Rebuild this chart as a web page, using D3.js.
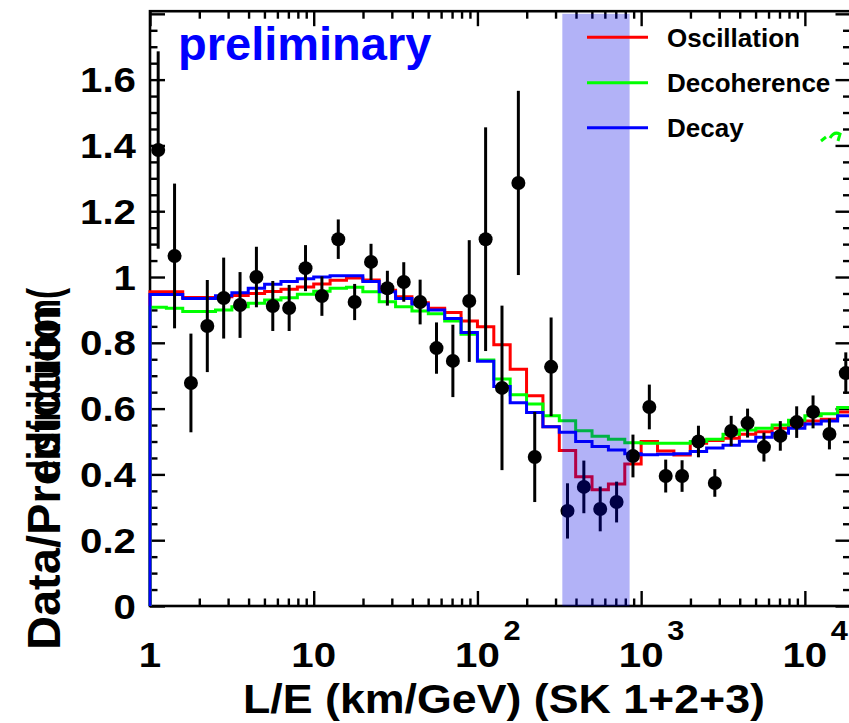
<!DOCTYPE html>
<html>
<head>
<meta charset="utf-8">
<script src="https://cdn.jsdelivr.net/npm/d3@7"></script>
<style>
  body { margin: 0; background: #fff; }
  svg { display: block; }
  text { font-family: "Liberation Sans", Arial, Helvetica, sans-serif; font-weight: bold; }
</style>
</head>
<body>
<svg id="chart" width="849" height="723"></svg>
<script>
// L/E binning: each bin covers one tenth of a decade, starting at 1 km/GeV
const binLog = 0.1;

// Measured data / prediction ratio per bin, with its statistical error
const dataRatio = [1.386, 1.064, 0.678, 0.851, 0.936, 0.915, 1.000, 0.912, 0.906, 1.027,
                   0.942, 1.115, 0.924, 1.046, 0.966, 0.985, 0.924, 0.784, 0.745, 0.927,
                   1.115, 0.663, 1.286, 0.453, 0.727, 0.289, 0.362, 0.295, 0.316, 0.456,
                   0.605, 0.395, 0.395, 0.500, 0.374, 0.532, 0.556, 0.483, 0.517, 0.559,
                   0.590, 0.523, 0.708];
const dataErr   = [0.300, 0.220, 0.150, 0.140, 0.123, 0.100, 0.092, 0.076, 0.070, 0.070,
                   0.060, 0.060, 0.055, 0.055, 0.053, 0.060, 0.068, 0.078, 0.110, 0.185,
                   0.340, 0.250, 0.280, 0.137, 0.150, 0.084, 0.080, 0.068, 0.062, 0.065,
                   0.068, 0.050, 0.048, 0.048, 0.042, 0.046, 0.044, 0.044, 0.045, 0.048,
                   0.050, 0.047, 0.063];

// Best-fit model predictions, same binning
const oscillation = [0.955, 0.955, 0.938, 0.938, 0.940, 0.944, 0.950, 0.956, 0.963, 0.970,
                     0.979, 0.990, 0.997, 0.991, 0.960, 0.940, 0.922, 0.905, 0.892, 0.866,
                     0.849, 0.794, 0.720, 0.639, 0.545, 0.473, 0.393, 0.353, 0.371, 0.432,
                     0.500, 0.471, 0.459, 0.495, 0.503, 0.510, 0.522, 0.530, 0.540, 0.550,
                     0.562, 0.568, 0.590];
const decoherence = [0.908, 0.905, 0.895, 0.895, 0.900, 0.910, 0.920, 0.930, 0.937, 0.948,
                     0.957, 0.966, 0.969, 0.955, 0.925, 0.910, 0.897, 0.888, 0.866, 0.826,
                     0.748, 0.690, 0.642, 0.614, 0.578, 0.563, 0.533, 0.516, 0.507, 0.496,
                     0.495, 0.495, 0.495, 0.500, 0.507, 0.522, 0.535, 0.540, 0.550, 0.565,
                     0.578, 0.584, 0.603];
const decay = [0.947, 0.947, 0.935, 0.935, 0.943, 0.952, 0.966, 0.978, 0.986, 0.995,
               1.000, 1.004, 1.004, 0.986, 0.955, 0.935, 0.918, 0.900, 0.874, 0.831,
               0.744, 0.667, 0.618, 0.588, 0.545, 0.528, 0.500, 0.485, 0.474, 0.463,
               0.460, 0.461, 0.463, 0.470, 0.480, 0.489, 0.501, 0.513, 0.525, 0.540,
               0.553, 0.562, 0.578];

// Axis ticks and labels
const yLabelTicks = [0, 0.2, 0.4, 0.6, 0.8, 1.0, 1.2, 1.4, 1.6];
const yLabelText  = ["0", "0.2", "0.4", "0.6", "0.8", "1", "1.2", "1.4", "1.6"];
const xDecades    = [1, 10, 100, 1000, 10000];
const xBase       = ["1", "10", "10", "10", "10"];
const xExponent   = ["", "", "2", "3", "4"];

// Highlighted L/E region (km/GeV)
const dipRegion = [330, 850];

const seriesNames  = ["Oscillation", "Decoherence", "Decay"];
const seriesColors = ["#ff0000", "#00ff00", "#0000ff"];

// ---------------------------------------------------------------
const svg = d3.select("#chart");
const plotL = 150, plotR = 850.5, plotB = 606, plotT = 11.2;

const x = d3.scaleLog().domain([1, 19000]).range([plotL, plotR]);
const y = d3.scaleLinear().domain([0, 1.808]).range([plotB, plotT]);

const nBins = dataRatio.length;
const binLo = d3.range(nBins).map(i => Math.pow(10, i * binLog));
const binHi = d3.range(nBins).map(i => Math.pow(10, (i + 1) * binLog));
const binMid = d3.range(nBins).map(i => Math.pow(10, (i + 0.5) * binLog));

// ---- frame ticks -------------------------------------------------
const majorLen = 15, minorLen = 7.5;
const yMinor = d3.range(0, 1.8001, 0.05).filter(v => Math.abs(v / 0.2 - Math.round(v / 0.2)) > 1e-6);
const yMajor = d3.range(0, 1.8001, 0.2);
const xMinor = [];
[1, 10, 100, 1000, 10000].forEach(d => { for (let k = 2; k <= 9; k++) if (d * k <= 19000) xMinor.push(d * k); });

const axes = svg.append("g").attr("class", "axes");
function tickAxis(axisGen, values, size, tx) {
  const g = axes.append("g").attr("transform", tx)
    .call(axisGen.tickValues(values).tickSize(size).tickSizeOuter(0).tickFormat(""));
  g.select(".domain").remove();
  g.selectAll(".tick line").attr("stroke", "#000").attr("stroke-width", 2.4);
  return g;
}
// ticks point into the plot on all four sides
tickAxis(d3.axisLeft(y),   yMajor, -majorLen, `translate(${plotL},0)`);
tickAxis(d3.axisLeft(y),   yMinor, -minorLen, `translate(${plotL},0)`);
tickAxis(d3.axisRight(y),  yMajor, -majorLen, `translate(${plotR},0)`);
tickAxis(d3.axisRight(y),  yMinor, -minorLen, `translate(${plotR},0)`);
tickAxis(d3.axisBottom(x), xDecades, -majorLen, `translate(0,${plotB})`);
tickAxis(d3.axisBottom(x), xMinor, -minorLen, `translate(0,${plotB})`);
tickAxis(d3.axisTop(x),    xDecades, -majorLen, `translate(0,${plotT})`);
tickAxis(d3.axisTop(x),    xMinor, -minorLen, `translate(0,${plotT})`);

axes.append("rect")
  .attr("x", plotL).attr("y", plotT)
  .attr("width", plotR - plotL).attr("height", plotB - plotT)
  .attr("fill", "none").attr("stroke", "#000").attr("stroke-width", 2.6);

// ---- model histograms (outline starts from zero at the left edge) --
const stepLine = d3.line().x(d => x(d[0])).y(d => y(d[1]));
function histPoints(vals) {
  const pts = [[1, 0]];
  vals.forEach((v, i) => { pts.push([binLo[i], v]); pts.push([binHi[i], v]); });
  return pts;
}
svg.append("clipPath").attr("id", "plotArea")
  .append("rect").attr("x", plotL - 3).attr("y", 0).attr("width", plotR - plotL + 3).attr("height", plotB + 2);

const hist = svg.append("g").attr("clip-path", "url(#plotArea)");
[oscillation, decoherence, decay].forEach((vals, k) => {
  hist.append("path")
    .attr("d", stepLine(histPoints(vals)))
    .attr("fill", "none")
    .attr("stroke", seriesColors[k])
    .attr("stroke-width", 3)
    .attr("stroke-linejoin", "miter");
});

// ---- data points with error bars ----------------------------------
const pts = svg.append("g");
pts.selectAll("line.err").data(dataRatio).join("line")
  .attr("class", "err")
  .attr("x1", (d, i) => x(binMid[i])).attr("x2", (d, i) => x(binMid[i]))
  .attr("y1", (d, i) => y(d - dataErr[i])).attr("y2", (d, i) => y(d + dataErr[i]))
  .attr("stroke", "#000").attr("stroke-width", 3);
pts.selectAll("circle").data(dataRatio).join("circle")
  .attr("cx", (d, i) => x(binMid[i])).attr("cy", d => y(d))
  .attr("r", 7).attr("fill", "#000");

// ---- highlighted L/E band -----------------------------------------
svg.append("rect")
  .attr("x", x(dipRegion[0])).attr("width", x(dipRegion[1]) - x(dipRegion[0]))
  .attr("y", y(1.8)).attr("height", y(0) - y(1.8))
  .attr("fill", "rgb(0,0,230)").attr("fill-opacity", 0.3);

// ---- axis labels --------------------------------------------------
const labels = svg.append("g");
yLabelTicks.forEach((v, i) => {
  labels.append("text")
    .attr("transform", `translate(136,${y(v) + 12.5}) scale(1.15,1)`)
    .attr("text-anchor", "end").attr("font-size", 35).attr("fill", "#000")
    .text(yLabelText[i]);
});
xDecades.forEach((v, i) => {
  labels.append("text")
    .attr("transform", `translate(${x(v)},667) scale(1.15,1)`)
    .attr("text-anchor", "middle").attr("font-size", 35).attr("fill", "#000")
    .text(xBase[i]);
  if (xExponent[i]) {
    labels.append("text")
      .attr("transform", `translate(${x(v) + 26},640) scale(1.1,1)`)
      .attr("text-anchor", "start").attr("font-size", 28).attr("fill", "#000")
      .text(xExponent[i]);
  }
});

labels.append("text")
  .attr("x", 243).attr("y", 713)
  .attr("font-size", 41).attr("fill", "#000")
  .attr("textLength", 522).attr("lengthAdjust", "spacingAndGlyphs")
  .text("L/E (km/GeV) (SK 1+2+3)");

const yTitle = labels.append("g").attr("transform", "translate(60,650) rotate(-90)");
yTitle.append("text").attr("x", 0).attr("y", 0)
  .attr("font-size", 47).attr("fill", "#000")
  .attr("textLength", 345).attr("lengthAdjust", "spacingAndGlyphs")
  .text("Data/Prediction");
yTitle.append("text").attr("x", 170).attr("y", 0)
  .attr("font-size", 47).attr("fill", "#000")
  .attr("textLength", 192).attr("lengthAdjust", "spacingAndGlyphs")
  .text("distribution(");

// ---- "preliminary" tag --------------------------------------------
svg.append("text")
  .attr("x", 178).attr("y", 60)
  .attr("font-size", 47).attr("fill", "#0000ff")
  .text("preliminary");

// ---- legend -------------------------------------------------------
const legendY = [37.3, 82.7, 127.7];
const legend = svg.append("g");
seriesNames.forEach((name, k) => {
  legend.append("line")
    .attr("x1", 587).attr("x2", 648)
    .attr("y1", legendY[k]).attr("y2", legendY[k])
    .attr("stroke", seriesColors[k]).attr("stroke-width", 3);
  legend.append("text")
    .attr("x", 667).attr("y", legendY[k] + 9.5)
    .attr("font-size", 26).attr("fill", "#000")
    .text(name);
});

// small green fragment of a marker peeking in at the right edge
svg.append("path")
  .attr("d", "M821,141 L826,137 M830,138 Q834,131 840,134 L838,141")
  .attr("fill", "none").attr("stroke", "#00ff00").attr("stroke-width", 3);
</script>
</body>
</html>
